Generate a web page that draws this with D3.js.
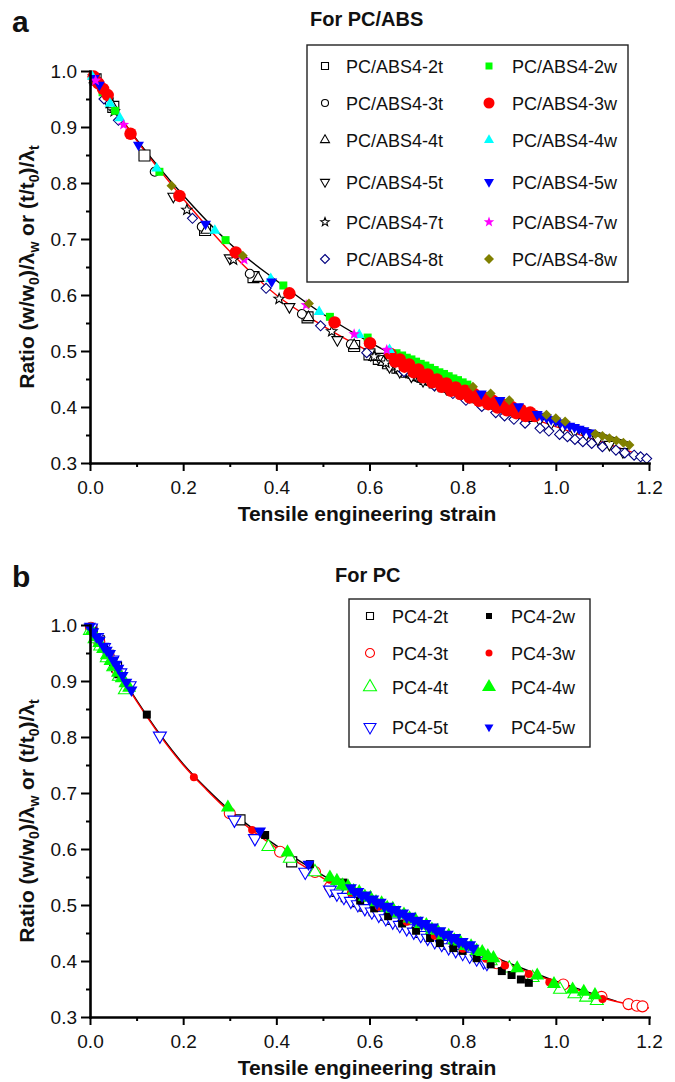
<!DOCTYPE html>
<html lang="en">
<head>
<meta charset="UTF-8">
<title>Ratio vs tensile engineering strain</title>
<script src="https://d3js.org/d3.v7.min.js"></script>
<style>
  body { margin: 0; background: #fff; }
  svg { display: block; }
  text { font-family: "Liberation Sans", Arial, sans-serif; fill: #111; }
</style>
</head>
<body>
<svg id="chart" width="675" height="1082"></svg>
<script>
// ticks
const strainTicks = [0, 0.2, 0.4, 0.6, 0.8, 1.0, 1.2];
const strainMinor = [0.1, 0.3, 0.5, 0.7, 0.9, 1.1];
const ratioTicks = [0.3, 0.4, 0.5, 0.6, 0.7, 0.8, 0.9, 1.0];
const ratioMinor = [0.35, 0.45, 0.55, 0.65, 0.75, 0.85, 0.95];

// ---- panel a : PC/ABS  [strain, ratio] ----
const abs2t = [[0.012,0.985],[0.050,0.936],[0.117,0.849],[0.247,0.716],[0.351,0.632],[0.467,0.560],[0.567,0.509],
  [0.600,0.494],[0.620,0.486],[0.640,0.478],[0.660,0.470],[0.680,0.463],[0.700,0.457],[0.720,0.450],[0.740,0.444],
  [0.760,0.437],[0.780,0.431],[0.800,0.425],[0.820,0.419],[0.840,0.413],[0.860,0.407],[0.880,0.401],[0.900,0.395],
  [0.920,0.390],[0.940,0.384]];
const abs3t = [[0.006,0.990],[0.040,0.948],[0.139,0.820],[0.240,0.722],[0.343,0.638],[0.455,0.566],[0.560,0.512],[0.626,0.484],
  [0.645,0.474],[0.665,0.466],[0.685,0.459],[0.705,0.452],[0.725,0.446],[0.745,0.440],[0.765,0.434],[0.785,0.428],
  [0.805,0.421],[0.825,0.415],[0.845,0.409],[0.865,0.404],[0.885,0.398],[0.905,0.392]];
const abs4t = [[0.010,0.985],[0.046,0.940],[0.250,0.716],[0.361,0.630],[0.469,0.560],[0.567,0.510],
  [0.610,0.489],[0.630,0.480],[0.650,0.472],[0.670,0.465],[0.690,0.458],[0.710,0.452],[0.730,0.446],[0.750,0.439],
  [0.770,0.433],[0.790,0.427],[0.810,0.421],[0.830,0.415],[0.850,0.410],[0.870,0.404],[0.890,0.398],[0.910,0.392],
  [0.930,0.386],[0.950,0.380]];
const abs5t = [[0.008,0.988],[0.038,0.946],[0.179,0.776],[0.300,0.666],[0.428,0.579],[0.531,0.520],[0.643,0.472],
  [0.665,0.463],[0.690,0.455],[0.715,0.447],[0.740,0.440],[0.765,0.433],[0.790,0.426],[0.815,0.419],[0.840,0.412],
  [0.865,0.405],[0.890,0.398],[0.915,0.391],[0.940,0.384],[0.965,0.377],[0.990,0.371],[1.015,0.364],[1.040,0.357],
  [1.065,0.350],[1.090,0.342],[1.115,0.333],[1.144,0.320]];
const abs7t = [[0.010,0.985],[0.052,0.928],[0.208,0.752],[0.308,0.663],[0.406,0.593],[0.519,0.535],[0.610,0.490],
  [0.635,0.479],[0.660,0.469],[0.685,0.461],[0.710,0.453],[0.735,0.445],[0.760,0.438],[0.785,0.431],[0.810,0.424],
  [0.835,0.417],[0.860,0.410]];
const abs8t = [[0.018,0.975],[0.030,0.950],[0.061,0.912],[0.220,0.737],[0.378,0.612],[0.495,0.545],[0.594,0.497],
  [0.674,0.463],[0.739,0.438],[0.779,0.424],[0.807,0.412],[0.841,0.401],[0.871,0.390],[0.890,0.384],[0.910,0.378],
  [0.934,0.371],[0.966,0.362],[0.985,0.357],[1.008,0.351],[1.025,0.347],[1.041,0.342],[1.058,0.338],[1.077,0.335],
  [1.100,0.329],[1.129,0.323],[1.148,0.318],[1.168,0.314],[1.182,0.311],[1.195,0.308]];
const abs2w = [[0.010,0.985],[0.027,0.962],[0.054,0.929],[0.149,0.820],[0.291,0.698],[0.415,0.617],[0.515,0.561],
  [0.596,0.524],[0.658,0.496],[0.670,0.492],[0.680,0.488],[0.690,0.485],[0.700,0.481],[0.710,0.477],[0.720,0.474],
  [0.730,0.470],[0.740,0.466],[0.750,0.462],[0.760,0.459],[0.770,0.455],[0.780,0.451],[0.790,0.448],[0.800,0.444],
  [0.810,0.440]];
const abs3w = [[0.008,0.990],[0.018,0.978],[0.028,0.968],[0.038,0.957],[0.087,0.888],[0.192,0.777],[0.313,0.676],
  [0.428,0.603],[0.525,0.551],[0.601,0.514],[0.645,0.495],[0.655,0.481],[0.665,0.485],[0.675,0.472],[0.685,0.476],
  [0.695,0.462],[0.705,0.467],[0.715,0.453],[0.725,0.458],[0.735,0.444],[0.745,0.449],[0.755,0.436],[0.765,0.442],
  [0.775,0.429],[0.785,0.435],[0.795,0.423],[0.805,0.429],[0.815,0.417],[0.825,0.423],[0.835,0.411],[0.845,0.417],
  [0.855,0.405],[0.865,0.411],[0.875,0.399],[0.885,0.405],[0.895,0.394],[0.905,0.400],[0.915,0.389],[0.925,0.395],
  [0.935,0.384],[0.945,0.390],[0.955,0.384]];
const abs4w = [[0.005,0.990],[0.043,0.942],[0.064,0.916],[0.143,0.826],[0.268,0.715],[0.388,0.629],[0.492,0.570],
  [0.578,0.529],[0.643,0.502]];
const abs5w = [[0.009,0.987],[0.020,0.975],[0.104,0.868],[0.248,0.727],[0.390,0.624],[0.840,0.424],[0.880,0.412],
  [0.920,0.401],[0.960,0.387],[0.970,0.384],[0.980,0.381],[0.990,0.378],[1.000,0.375],[1.010,0.372],[1.020,0.369],
  [1.030,0.366],[1.040,0.364],[1.050,0.361],[1.060,0.358],[1.073,0.354]];
const abs7w = [[0.012,0.983],[0.072,0.904],[0.331,0.663],[0.464,0.582],[0.567,0.530],[0.637,0.502]];
const abs8w = [[0.175,0.795],[0.328,0.670],[0.470,0.585],[0.822,0.436],[0.860,0.424],[0.900,0.412],[0.980,0.386],
  [1.000,0.380],[1.020,0.374],[1.085,0.352],[1.100,0.348],[1.115,0.344],[1.130,0.340],[1.145,0.336],[1.158,0.332]];
// fitted curves, panel a
const absFitW = [[0,0.995],[0.1,0.878],[0.2,0.778],[0.3,0.692],[0.4,0.626],[0.5,0.566],[0.6,0.516],[0.7,0.473],
  [0.8,0.438],[0.9,0.407],[1.0,0.379],[1.1,0.352],[1.155,0.337]];
const absFitT = [[0,1.0],[0.1,0.876],[0.2,0.772],[0.3,0.678],[0.4,0.600],[0.5,0.545],[0.6,0.499],[0.7,0.460],
  [0.8,0.425],[0.9,0.394],[1.0,0.365],[1.1,0.337],[1.2,0.309]];

// ---- panel b : PC ----
const pc2t = [[0.004,0.992],[0.020,0.972],[0.040,0.946],[0.057,0.925],[0.322,0.652],[0.433,0.577],[0.530,0.524],
  [0.550,0.515],[0.570,0.506],[0.590,0.498],[0.610,0.490],[0.630,0.482],[0.650,0.474],[0.670,0.466],[0.690,0.459],
  [0.710,0.451],[0.730,0.444],[0.750,0.437],[0.770,0.430],[0.790,0.423],[0.810,0.417]];
const pc3t = [[0.002,0.995],[0.020,0.970],[0.040,0.944],[0.060,0.918],[0.300,0.664],[0.408,0.595],[0.483,0.559],
  [0.515,0.532],[0.540,0.522],[0.560,0.513],[0.580,0.504],[0.600,0.496],[0.620,0.488],[0.640,0.480],[0.660,0.472],
  [0.680,0.465],[0.700,0.457],[0.720,0.450],[0.740,0.443],[0.760,0.436],[0.780,0.429],[0.873,0.396],[0.945,0.372],
  [1.016,0.358],[1.098,0.336],[1.156,0.323],[1.174,0.320],[1.186,0.319]];
const pc4t = [[0.000,0.990],[0.010,0.975],[0.022,0.962],[0.036,0.941],[0.050,0.925],[0.062,0.908],[0.075,0.884],
  [0.383,0.604],[0.429,0.583],[0.483,0.559],[0.530,0.530],[0.550,0.521],[0.570,0.512],[0.590,0.504],[0.610,0.496],
  [0.630,0.488],[0.650,0.480],[0.670,0.472],[0.690,0.464],[0.710,0.456],[0.730,0.449],[0.750,0.441],[0.770,0.434],
  [0.790,0.427],[0.810,0.420],[0.860,0.400],[0.900,0.387],[0.950,0.370],[1.009,0.349],[1.040,0.341],[1.065,0.335],
  [1.088,0.329]];
const pc5t = [[0.002,0.995],[0.015,0.978],[0.030,0.960],[0.048,0.938],[0.065,0.915],[0.085,0.892],[0.150,0.802],
  [0.310,0.652],[0.354,0.619],[0.462,0.559],[0.515,0.527],[0.530,0.520],[0.545,0.514],[0.560,0.507],[0.575,0.501],
  [0.590,0.494],[0.605,0.488],[0.620,0.482],[0.635,0.476],[0.650,0.470],[0.665,0.464],[0.680,0.458],[0.695,0.452],
  [0.710,0.446],[0.725,0.441],[0.740,0.435],[0.755,0.430],[0.770,0.424],[0.785,0.419],[0.800,0.414],[0.815,0.409],
  [0.830,0.404],[0.845,0.399],[0.852,0.396]];
const pc2w = [[0.008,0.988],[0.030,0.958],[0.050,0.934],[0.061,0.912],[0.122,0.840],[0.376,0.625],[0.472,0.573],
  [0.544,0.540],[0.580,0.508],[0.610,0.494],[0.640,0.480],[0.670,0.467],[0.700,0.454],[0.730,0.441],[0.751,0.432],
  [0.780,0.423],[0.800,0.418],[0.830,0.405],[0.860,0.394],[0.884,0.382],[0.905,0.375],[0.925,0.367],[0.942,0.361]];
const pc3w = [[0.015,0.978],[0.045,0.938],[0.223,0.728],[0.348,0.634],[0.515,0.545],[0.560,0.522],[0.620,0.497],
  [0.680,0.470],[0.740,0.445],[0.800,0.422],[0.850,0.404],[0.891,0.392],[0.942,0.377],[0.986,0.362],[1.100,0.332]];
const pc4w = [[0.004,0.990],[0.012,0.978],[0.020,0.968],[0.028,0.957],[0.036,0.946],[0.044,0.936],[0.052,0.926],
  [0.060,0.915],[0.068,0.905],[0.076,0.896],[0.084,0.888],[0.296,0.674],[0.424,0.594],[0.515,0.549],
  [0.530,0.543],[0.542,0.535],[0.554,0.533],[0.566,0.525],[0.578,0.523],[0.590,0.515],[0.602,0.513],[0.614,0.505],
  [0.626,0.503],[0.638,0.495],[0.650,0.493],[0.662,0.485],[0.674,0.483],[0.686,0.476],[0.698,0.474],[0.710,0.466],
  [0.722,0.464],[0.734,0.456],[0.746,0.454],[0.758,0.446],[0.770,0.445],[0.782,0.437],[0.794,0.435],[0.806,0.427],
  [0.818,0.426],[0.830,0.418],[0.842,0.416],[0.854,0.409],[0.866,0.405],[0.917,0.387],[0.960,0.374],[0.996,0.359],
  [1.036,0.349],[1.060,0.345],[1.084,0.339]];
const pc5w = [[0.000,0.998],[0.007,0.988],[0.014,0.979],[0.021,0.973],[0.029,0.962],[0.036,0.955],[0.043,0.949],
  [0.050,0.937],[0.056,0.930],[0.061,0.923],[0.070,0.910],[0.078,0.898],[0.089,0.884],[0.365,0.632],[0.469,0.573],
  [0.560,0.531],[0.568,0.523],[0.576,0.524],[0.584,0.516],[0.592,0.518],[0.600,0.510],[0.608,0.511],[0.616,0.503],
  [0.624,0.505],[0.632,0.497],[0.640,0.498],[0.648,0.491],[0.656,0.492],[0.664,0.484],[0.672,0.486],[0.680,0.478],
  [0.688,0.480],[0.696,0.472],[0.704,0.473],[0.712,0.466],[0.720,0.467],[0.728,0.459],[0.736,0.461],[0.744,0.453],
  [0.752,0.454],[0.760,0.447],[0.768,0.448],[0.776,0.440],[0.784,0.442],[0.792,0.434],[0.800,0.435],[0.808,0.428],
  [0.816,0.429],[0.823,0.423]];
const pcFitW = [[0,1.0],[0.05,0.932],[0.1,0.866],[0.15,0.805],[0.2,0.752],[0.25,0.708],[0.3,0.669],[0.35,0.636],
  [0.4,0.606],[0.5,0.553],[0.6,0.507],[0.7,0.467],[0.8,0.430],[0.9,0.396],[1.0,0.364],[1.1,0.336],[1.13,0.328]];
const pcFitT = [[0,1.0],[0.05,0.930],[0.1,0.864],[0.15,0.803],[0.2,0.750],[0.25,0.706],[0.3,0.666],[0.35,0.632],
  [0.4,0.602],[0.5,0.548],[0.6,0.502],[0.7,0.462],[0.8,0.426],[0.9,0.393],[1.0,0.362],[1.1,0.334],[1.2,0.316]];

const svg = d3.select("#chart");
const x = d3.scaleLinear().domain([0, 1.2]).range([90, 649]);

// marker outlines, s = full width in px
function shape(kind, s) {
  const r = s / 2, h = s * 0.866;
  if (kind === "square") return `M${-r},${-r}H${r}V${r}H${-r}Z`;
  if (kind === "circle") return `M${r},0A${r},${r} 0 1,1 ${-r},0A${r},${r} 0 1,1 ${r},0Z`;
  if (kind === "up") return `M0,${-h * 2 / 3}L${r},${h / 3}L${-r},${h / 3}Z`;
  if (kind === "down") return `M0,${h * 2 / 3}L${r},${-h / 3}L${-r},${-h / 3}Z`;
  if (kind === "diamond") return `M0,${-r}L${r},0L0,${r}L${-r},0Z`;
  if (kind === "star") {
    let p = "";
    for (let i = 0; i < 10; i++) {
      const a = -Math.PI / 2 + i * Math.PI / 5, rr = i % 2 ? r * 0.42 : r;
      p += (i ? "L" : "M") + (rr * Math.cos(a)).toFixed(2) + "," + (rr * Math.sin(a)).toFixed(2);
    }
    return p + "Z";
  }
}

const panels = [
  {
    letter: "a", letterY: 32, title: "For PC/ABS", titleX: 310, titleY: 26, top: 71, bottom: 463,
    fits: [[absFitW, "#000"], [absFitT, "#ff0000"]],
    series: [
      { name: "PC/ABS4-2t", data: abs2t, kind: "square", size: 11, color: "#000", open: true, ls: 7 },
      { name: "PC/ABS4-3t", data: abs3t, kind: "circle", size: 9, color: "#000", open: true, ls: 7 },
      { name: "PC/ABS4-4t", data: abs4t, kind: "up", size: 11, color: "#000", open: true, ls: 9 },
      { name: "PC/ABS4-5t", data: abs5t, kind: "down", size: 11, color: "#000", open: true, ls: 9 },
      { name: "PC/ABS4-7t", data: abs7t, kind: "star", size: 11, color: "#000", open: true, ls: 9 },
      { name: "PC/ABS4-8t", data: abs8t, kind: "diamond", size: 10, color: "#000080", open: true, ls: 9 },
      { name: "PC/ABS4-2w", data: abs2w, kind: "square", size: 8, color: "#00ff00", open: false, ls: 7 },
      { name: "PC/ABS4-3w", data: abs3w, kind: "circle", size: 12.5, color: "#ff0000", open: false, ls: 11 },
      { name: "PC/ABS4-4w", data: abs4w, kind: "up", size: 11, color: "#00ffff", open: false, ls: 10 },
      { name: "PC/ABS4-5w", data: abs5w, kind: "down", size: 11, color: "#0000ff", open: false, ls: 10 },
      { name: "PC/ABS4-7w", data: abs7w, kind: "star", size: 12, color: "#ff00ff", open: false, ls: 11 },
      { name: "PC/ABS4-8w", data: abs8w, kind: "diamond", size: 10, color: "#808000", open: false, ls: 10 }
    ],
    legend: { box: [307, 45, 321, 237], rows: [66, 103, 140, 182, 222, 259], sx: [325, 489], tx: [346, 512] }
  },
  {
    letter: "b", letterY: 587, title: "For PC", titleX: 335, titleY: 582, top: 625, bottom: 1017,
    fits: [[pcFitW, "#000"], [pcFitT, "#ff0000"]],
    series: [
      { name: "PC4-2t", data: pc2t, kind: "square", size: 10, color: "#000", open: true, ls: 7 },
      { name: "PC4-3t", data: pc3t, kind: "circle", size: 11, color: "#ff0000", open: true, ls: 9 },
      { name: "PC4-4t", data: pc4t, kind: "up", size: 13, color: "#00ff00", open: true, ls: 13 },
      { name: "PC4-5t", data: pc5t, kind: "down", size: 13, color: "#0000ff", open: true, ls: 12 },
      { name: "PC4-2w", data: pc2w, kind: "square", size: 8, color: "#000", open: false, ls: 6 },
      { name: "PC4-3w", data: pc3w, kind: "circle", size: 8, color: "#ff0000", open: false, ls: 7 },
      { name: "PC4-4w", data: pc4w, kind: "up", size: 14, color: "#00ff00", open: false, ls: 14 },
      { name: "PC4-5w", data: pc5w, kind: "down", size: 12, color: "#0000ff", open: false, ls: 9 }
    ],
    legend: { box: [349, 599, 241, 148], rows: [616, 653, 687, 727], sx: [370, 489], tx: [392, 511] }
  }
];

panels.forEach(p => {
  const y = d3.scaleLinear().domain([0.3, 1.0]).range([p.bottom, p.top]);
  const g = svg.append("g");

  // panel letter and title
  g.append("text").attr("x", 12).attr("y", p.letterY).attr("font-size", 30).attr("font-weight", "bold").text(p.letter);
  g.append("text").attr("x", p.titleX).attr("y", p.titleY).attr("font-size", 20).attr("font-weight", "bold").text(p.title);

  // fitted curves
  const line = d3.line().x(d => x(d[0])).y(d => y(d[1])).curve(d3.curveMonotoneX);
  p.fits.forEach(([d, c]) => {
    g.append("path").attr("d", line(d)).attr("fill", "none").attr("stroke", c).attr("stroke-width", 1.4);
  });

  // markers
  p.series.forEach(s => {
    g.append("g").selectAll("path").data(s.data).join("path")
      .attr("transform", d => `translate(${x(d[0])},${y(d[1])})`)
      .attr("d", shape(s.kind, s.size))
      .attr("fill", s.open ? "#fff" : s.color)
      .attr("stroke", s.open ? s.color : "none")
      .attr("stroke-width", 1.1);
  });

  // axes
  const xAxis = g.append("g").attr("transform", `translate(0,${p.bottom})`)
    .call(d3.axisBottom(x).tickValues(strainTicks).tickSize(8).tickSizeOuter(0).tickFormat(d3.format(".1f")));
  g.append("g").attr("transform", `translate(0,${p.bottom})`)
    .call(d3.axisBottom(x).tickValues(strainMinor).tickSize(4).tickSizeOuter(0).tickFormat(""))
    .select(".domain").remove();
  const yAxis = g.append("g").attr("transform", "translate(90,0)")
    .call(d3.axisLeft(y).tickValues(ratioTicks).tickSize(9).tickSizeOuter(0).tickFormat(d3.format(".1f")));
  g.append("g").attr("transform", "translate(90,0)")
    .call(d3.axisLeft(y).tickValues(ratioMinor).tickSize(4).tickSizeOuter(0).tickFormat(""))
    .select(".domain").remove();
  g.selectAll(".domain").attr("stroke", "#000").attr("stroke-width", 2.6).attr("stroke-linecap", "square");
  g.selectAll(".tick line").attr("stroke", "#000").attr("stroke-width", 2);
  xAxis.selectAll(".tick text").attr("y", 31).attr("dy", null).attr("font-size", 19).attr("fill", "#111")
    .attr("font-family", "Liberation Sans, Arial, sans-serif");
  yAxis.selectAll(".tick text").attr("x", -13).attr("dy", "0.35em").attr("font-size", 19).attr("fill", "#111")
    .attr("font-family", "Liberation Sans, Arial, sans-serif");

  // axis titles
  g.append("text").attr("x", 367).attr("y", p.bottom + 58).attr("text-anchor", "middle")
    .attr("font-size", 21).attr("font-weight", "bold").text("Tensile engineering strain");
  const yl = g.append("text").attr("transform", `translate(34,${(p.top + p.bottom) / 2}) rotate(-90)`)
    .attr("text-anchor", "middle").attr("font-size", 21).attr("font-weight", "bold");
  [["Ratio (w/w", 0], ["0", 1], [")/λ", -1], ["w", 1], [" or (t/t", -1], ["0", 1], [")/λ", -1], ["t", 1]].forEach(([t, sub]) => {
    yl.append("tspan").attr("dy", sub === 1 ? 5 : sub === -1 ? -5 : 0)
      .attr("font-size", sub === 1 ? 14 : 21).text(t);
  });

  // legend
  const L = p.legend, half = p.series.length / 2;
  g.append("rect").attr("x", L.box[0]).attr("y", L.box[1]).attr("width", L.box[2]).attr("height", L.box[3])
    .attr("fill", "#fff").attr("stroke", "#222").attr("stroke-width", 1.4);
  p.series.forEach((s, i) => {
    const col = i < half ? 0 : 1, ry = L.rows[i % half];
    g.append("path").attr("transform", `translate(${L.sx[col]},${ry})`).attr("d", shape(s.kind, s.ls))
      .attr("fill", s.open ? "#fff" : s.color).attr("stroke", s.open ? s.color : "none").attr("stroke-width", 1.1);
    g.append("text").attr("x", L.tx[col]).attr("y", ry + 7).attr("font-size", 18).text(s.name);
  });
});
</script>
</body>
</html>
